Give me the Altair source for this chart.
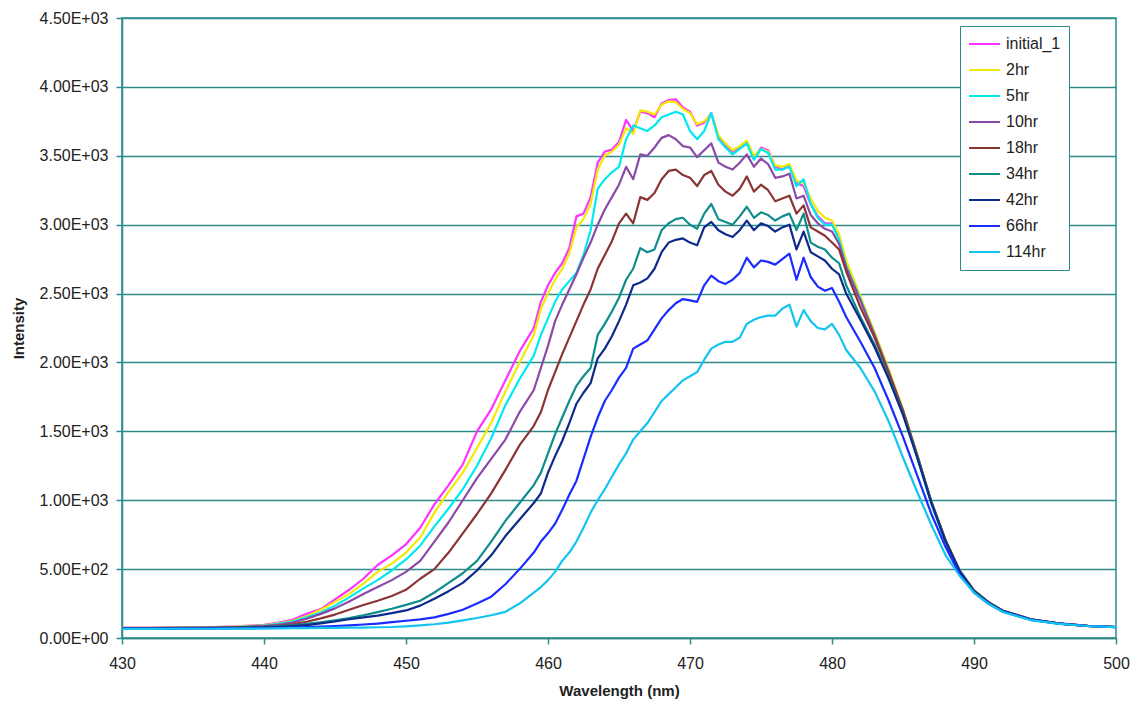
import altair as alt
import pandas as pd

# ---------------- data ----------------
wavelength = [430, 432, 434, 436, 438, 440,
              441, 442, 443, 444, 445, 446, 447, 448, 449, 450, 451, 452, 453, 454, 455, 456, 457, 458, 459,
              459.5, 460, 460.5, 461, 461.5, 462, 462.5, 463, 463.5, 464, 464.5, 465, 465.5, 466, 466.5,
              467, 467.5, 468, 468.5, 469, 469.5, 470, 470.5, 471, 471.5, 472, 472.5, 473, 473.5, 474,
              474.5, 475, 475.5, 476, 476.5, 477, 477.5, 478, 478.5, 479, 479.5, 480, 480.5, 481,
              482, 483, 484, 485, 486, 487, 488, 489, 490, 491, 492, 494, 496, 498, 500]

series_names = ["initial_1", "2hr", "5hr", "10hr", "18hr", "34hr", "42hr", "66hr", "114hr"]
series_colors = ["#ff33ff", "#f2ea00", "#00e8f2", "#8a4aa6", "#8a3434", "#0f8c8c", "#0d2a8a", "#1a2cff", "#14c4f0"]

initial_1 = [75, 75, 76, 78, 84, 96,
             112, 132, 175, 210, 280, 350, 430, 530, 600, 680, 800, 970, 1110, 1260, 1500, 1660, 1870, 2080, 2250,
             2440, 2560, 2650, 2720, 2830, 3060, 3080, 3200, 3450, 3530, 3545, 3600, 3760, 3680, 3820,
             3810, 3780, 3880, 3905, 3910, 3850, 3820, 3720, 3740, 3810, 3640, 3580, 3530, 3560, 3600,
             3480, 3560, 3540, 3420, 3400, 3430, 3300, 3280, 3150, 3060, 3010, 3010, 2900, 2720,
             2470, 2210, 1940, 1650, 1320, 980, 700, 480, 340, 260, 200, 135, 105, 88, 80]

hr2 = [74, 74, 75, 77, 82, 92,
       106, 124, 158, 205, 262, 320, 395, 480, 540, 620, 730, 910, 1060, 1200, 1380, 1560, 1790, 2000, 2200,
       2390, 2500, 2600, 2680, 2790, 2980, 3040, 3150, 3400, 3500, 3530, 3580, 3700, 3660, 3830,
       3820, 3800, 3870, 3895, 3890, 3840, 3810, 3730, 3750, 3800, 3650, 3590, 3540, 3570, 3610,
       3500, 3550, 3530, 3430, 3420, 3440, 3320, 3300, 3190, 3100, 3050, 3030, 2930, 2740,
       2480, 2220, 1950, 1660, 1330, 990, 710, 485, 345, 262, 200, 135, 105, 88, 80]

hr5 = [72, 72, 74, 76, 80, 90,
       102, 120, 150, 185, 235, 295, 360, 420, 490, 570, 670, 810, 940, 1080, 1250, 1450, 1690, 1880, 2050,
       2200, 2320, 2440, 2530, 2590, 2650, 2780, 2960, 3260, 3330, 3380, 3420, 3620, 3720, 3700,
       3680, 3720, 3780, 3800, 3820, 3800, 3680, 3620, 3680, 3810, 3620, 3560, 3510, 3550, 3590,
       3470, 3550, 3520, 3400, 3400, 3420, 3280, 3330, 3150, 3050, 3000, 3000, 2890, 2700,
       2460, 2200, 1930, 1640, 1310, 970, 695, 478, 338, 258, 198, 134, 104, 87, 80]

hr10 = [72, 72, 73, 75, 78, 86,
        96, 112, 140, 175, 215, 265, 320, 370, 420, 480, 560, 700, 840, 1000, 1160, 1300, 1440, 1640, 1800,
        1960, 2120, 2300, 2420, 2530, 2640, 2760, 2870, 3000, 3110, 3200, 3290, 3420, 3330, 3510,
        3500, 3560, 3630, 3650, 3620, 3570, 3560, 3490, 3540, 3590, 3450, 3420, 3400, 3450, 3510,
        3420, 3480, 3440, 3340, 3350, 3370, 3190, 3210, 3070, 3010, 2970, 2950, 2860, 2690,
        2450, 2200, 1930, 1650, 1320, 985, 705, 485, 342, 260, 200, 135, 105, 88, 80]

hr18 = [72, 72, 73, 74, 77, 82,
        88, 100, 118, 142, 170, 205, 240, 270, 305, 350, 430, 500, 620, 760, 900, 1050, 1220, 1400, 1540,
        1640, 1800, 1930, 2060, 2180, 2300, 2420, 2530, 2680, 2780, 2880, 3010, 3080, 3010, 3200,
        3180, 3230, 3330, 3390, 3400, 3360, 3340, 3280, 3360, 3390, 3290, 3240, 3210, 3260, 3350,
        3240, 3290, 3250, 3170, 3190, 3210, 3080, 3140, 2980, 2950, 2920, 2870, 2820, 2660,
        2400, 2180, 1920, 1650, 1330, 990, 710, 488, 345, 262, 200, 136, 106, 88, 80]

hr34 = [70, 70, 71, 72, 74, 78,
        84, 92, 102, 114, 128, 145, 165, 188, 212, 240, 270, 330, 400, 470, 560, 700, 850, 980, 1110,
        1200, 1340, 1480, 1600, 1720, 1830, 1900, 1960, 2200, 2280, 2370, 2470, 2600, 2680, 2830,
        2800, 2820, 2960, 3010, 3040, 3050, 3000, 2970, 3080, 3150, 3040, 3020, 3000, 3060, 3130,
        3050, 3090, 3070, 3030, 3060, 3080, 2960, 3080, 2870, 2840, 2820, 2760, 2720, 2560,
        2330, 2130, 1890, 1630, 1320, 985, 705, 485, 342, 260, 198, 135, 105, 88, 80]

hr42 = [70, 70, 70, 71, 73, 76,
        80, 86, 94, 106, 120, 136, 150, 162, 180, 200, 235, 285, 340, 400, 490, 600, 740, 860, 980,
        1050, 1200, 1320, 1430, 1560, 1700, 1780, 1850, 2030, 2100, 2190, 2300, 2420, 2560, 2580,
        2610, 2680, 2800, 2870, 2890, 2900, 2870, 2850, 2980, 3020, 2960, 2930, 2910, 2960, 3030,
        2960, 3010, 2990, 2950, 2980, 3000, 2820, 2950, 2800, 2770, 2740, 2680, 2640, 2500,
        2310, 2110, 1880, 1620, 1310, 980, 700, 482, 340, 258, 197, 134, 104, 87, 79]

hr66 = [68, 68, 68, 69, 70, 72,
        74, 76, 79, 82, 87, 92, 98, 105, 115, 125, 135, 150, 175, 205, 250, 300, 390, 500, 620,
        700, 760, 830, 930, 1040, 1140, 1300, 1460, 1600, 1720, 1800, 1890, 1960, 2100, 2130,
        2160, 2240, 2320, 2380, 2430, 2460, 2450, 2440, 2560, 2630, 2590, 2570, 2600, 2650, 2760,
        2690, 2740, 2730, 2710, 2750, 2790, 2600, 2760, 2620, 2550, 2520, 2540, 2440, 2330,
        2150, 1960, 1720, 1460, 1180, 900, 660, 460, 330, 250, 192, 132, 104, 87, 79]

hr114 = [66, 66, 67, 67, 68, 69,
         70, 71, 72, 73, 74, 75, 76, 78, 80, 85, 92, 100, 112, 128, 145, 165, 190, 250, 330,
         370, 420, 480, 560, 620, 700, 800, 910, 1000, 1080, 1170, 1260, 1340, 1440, 1500,
         1560, 1640, 1720, 1770, 1820, 1870, 1900, 1930, 2020, 2100, 2130, 2150, 2150, 2180, 2280,
         2310, 2330, 2340, 2340, 2390, 2420, 2260, 2380, 2300, 2250, 2240, 2280, 2200, 2090,
         1960, 1790, 1570, 1310, 1060, 820, 600, 450, 330, 250, 190, 130, 103, 87, 79]

x_ticks = [430, 440, 450, 460, 470, 480, 490, 500]
y_ticks = [0, 500, 1000, 1500, 2000, 2500, 3000, 3500, 4000, 4500]

# ---------------- table ----------------
all_series = [initial_1, hr2, hr5, hr10, hr18, hr34, hr42, hr66, hr114]
rows = []
for name, vals in zip(series_names, all_series):
    assert len(vals) == len(wavelength), (name, len(vals), len(wavelength))
    for i, (w, v) in enumerate(zip(wavelength, vals)):
        rows.append({"Wavelength": w, "Intensity": v, "series": name, "k": i})
df = pd.DataFrame(rows)

TEAL = "#2e8b8b"
FONT = "Liberation Sans"
TXT = "#222222"

ylabel = ("datum.value == 0 ? '0.00E+00' : (datum.value < 1000 ? "
          "format(datum.value / 100, '.2f') + 'E+02' : format(datum.value / 1000, '.2f') + 'E+03')")

chart = alt.Chart(df).mark_line(strokeWidth=2.2, strokeJoin="round").encode(
    x=alt.X("Wavelength:Q",
            scale=alt.Scale(domain=[430, 500], nice=False, zero=False),
            axis=alt.Axis(values=x_ticks, title="Wavelength (nm)", grid=False,
                          labelFlush=False, labelFont=FONT, labelFontSize=16, labelColor=TXT,
                          labelPadding=11, tickSize=6, tickColor=TEAL, tickWidth=1.5,
                          domainColor=TEAL, domainWidth=1.5,
                          titleFont=FONT, titleFontSize=15, titleFontWeight="bold",
                          titleColor=TXT, titlePadding=12)),
    y=alt.Y("Intensity:Q",
            scale=alt.Scale(domain=[0, 4500], nice=False, zero=True),
            axis=alt.Axis(values=y_ticks, labelExpr=ylabel, title="Intensity",
                          grid=True, gridColor=TEAL, gridWidth=1.5,
                          labelFont=FONT, labelFontSize=16, labelColor=TXT,
                          labelPadding=8, tickSize=6, tickColor=TEAL, tickWidth=1.5,
                          domainColor=TEAL, domainWidth=1.5, labelOverlap=False,
                          titleFont=FONT, titleFontSize=15, titleFontWeight="bold",
                          titleColor=TXT, titleX=-104, titleY=310, titleAngle=270,
                          titleAlign="center", titleBaseline="middle")),
    color=alt.Color("series:N",
                    scale=alt.Scale(domain=series_names, range=series_colors),
                    sort=series_names,
                    legend=alt.Legend(title=None, orient="none", legendX=838, legendY=8,
                                      symbolType="stroke", symbolSize=961, symbolStrokeWidth=2,
                                      labelFont=FONT, labelFontSize=16, labelColor=TXT,
                                      labelOffset=5, clipHeight=20, rowPadding=6,
                                      padding=8, strokeColor=TEAL, fillColor="white")),
    order=alt.Order("k:Q"),
).properties(
    width=994, height=620,
    autosize=alt.AutoSizeParams(type="none"),
    padding={"left": 114, "top": 10, "right": 14, "bottom": 66},
    background="white",
).configure_view(stroke=TEAL, strokeWidth=1.5)

chart.save("out.html", embed_options={"renderer": "svg", "actions": False})
